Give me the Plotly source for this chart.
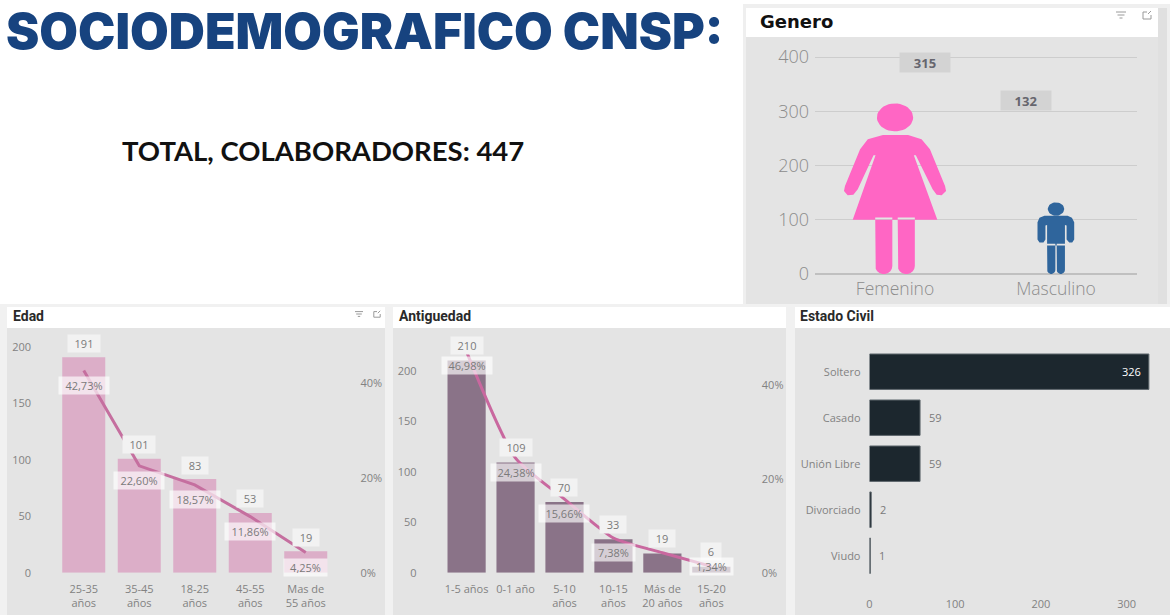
import numpy as np
import plotly.graph_objects as go

W, H = 1170, 615

# ---- data ----
genero_cats = ["Femenino", "Masculino"]
genero_vals = [315, 132]

edad_cats = ["25-35<br>años", "35-45<br>años", "18-25<br>años", "45-55<br>años", "Mas de<br>55 años"]
edad_vals = [191, 101, 83, 53, 19]
edad_pct = [42.73, 22.60, 18.57, 11.86, 4.25]
edad_pct_text = ["42,73%", "22,60%", "18,57%", "11,86%", "4,25%"]

antig_cats = ["1-5 años", "0-1 año", "5-10<br>años", "10-15<br>años", "Más de<br>20 años", "15-20<br>años"]
antig_vals = [210, 109, 70, 33, 19, 6]
antig_pct = [46.98, 24.38, 15.66, 7.38, 4.25, 1.34]
antig_pct_text = ["46,98%", "24,38%", "15,66%", "7,38%", "", "1,34%"]

civil_cats = ["Soltero", "Casado", "Unión Libre", "Divorciado", "Viudo"]
civil_vals = [326, 59, 59, 2, 1]

pct_ticks = [0, 20, 40]
pct_tick_text = ["0%", "20%", "40%"]

title_text = "SOCIODEMOGRAFICO CNSP:"
total_text = "TOTAL, COLABORADORES: 447"

# ---- style ----
PANEL = "#e4e4e4"
TXT = "#828282"
FONT = "Open Sans"


def dx(a, b):
    return [a / W, b / W]


def dy(top, bottom):
    return [1 - bottom / H, 1 - top / H]


def px(x):
    return x / W


def py(y):
    return 1 - y / H


shapes = []
annotations = []


def rect(x0, y0, x1, y1, color):
    shapes.append(dict(type="rect", xref="paper", yref="paper", layer="below",
                       x0=px(x0), x1=px(x1), y0=py(y1), y1=py(y0),
                       fillcolor=color, line=dict(width=0)))


def seg(x0, y0, x1, y1, color="#9a9a9a", w=1):
    shapes.append(dict(type="line", xref="paper", yref="paper", layer="above",
                       x0=px(x0), x1=px(x1), y0=py(y0), y1=py(y1),
                       line=dict(color=color, width=w)))


def head(text, x, y, size, family, color, weight=700):
    annotations.append(dict(text=text, xref="paper", yref="paper", x=px(x), y=py(y),
                            xanchor="left", yanchor="middle", showarrow=False, borderpad=0,
                            font=dict(size=size, family=family, color=color, weight=weight)))


def icons(xf, xe, y, s):
    for i, half in enumerate([5, 3.5, 1.5]):
        seg(xf - half * s, y - 3 * s + i * 3 * s, xf + half * s, y - 3 * s + i * 3 * s)
    seg(xe - 4 * s, y - 3 * s, xe - 4 * s, y + 4 * s)
    seg(xe - 4 * s, y + 4 * s, xe + 4 * s, y + 4 * s)
    seg(xe + 4 * s, y + 4 * s, xe + 4 * s, y)
    seg(xe - 4 * s, y - 3 * s, xe, y - 3 * s)
    seg(xe + 1 * s, y - 1 * s, xe + 4 * s, y - 4 * s)


# panels
rect(743, 4, 1170, 306, "#efefef")
rect(746, 8, 1158, 37, "#ffffff")
rect(746, 37, 1158, 305, PANEL)
rect(1158, 8, 1167, 305, "#e0e0e0")
rect(0, 304, 1170, 615, "#f1f1f1")
for x0, x1 in [(7, 385), (393, 786), (795, 1170)]:
    rect(x0, 307, x1, 328, "#ffffff")
    rect(x0, 328, x1, 615, PANEL)

head(title_text, 5, 31, 50, "Inter", "#17437f", weight=900)
head(total_text, 121, 151, 27.5, "Lato", "#111111")
head("Genero", 759, 22, 18, "DejaVu Sans", "#111111")
head("Edad", 12, 316, 14, "Roboto", "#2a2a2a")
head("Antiguedad", 398, 316, 14, "Roboto", "#2a2a2a")
head("Estado Civil", 799, 316, 14, "Roboto", "#2a2a2a")
icons(1121, 1147, 15, 1.0)
icons(359, 377, 314, 0.8)


def lab(text, x, y, xr, yr, yshift=0, xshift=0, bg="rgba(255,255,255,0.65)", color="#7a7a7a", size=11,
        xanchor="center", pad=0, width=None, height=None):
    annotations.append(dict(text=text, x=x, y=y, xref=xr, yref=yr, showarrow=False, xshift=xshift, yshift=yshift,
                            xanchor=xanchor, yanchor="middle", bgcolor=bg, borderpad=pad, width=width, height=height,
                            font=dict(size=size, family=FONT, color=color)))


def val_w(text):
    return {1: 20, 2: 26, 3: 32}[len(text)]


def pct_w(text):
    return 43 if len(text) == 5 else 50


def icon_path(parts, cx, half_w, h):
    xs, ys = [], []
    for part in parts:
        xs += [cx + half_w * u for u, _ in part] + [None]
        ys += [h * v for _, v in part] + [None]
    return xs, ys


def ellipse(cu, cv, ru, rv):
    t = np.linspace(0, 2 * np.pi, 40)
    return list(zip(cu + ru * np.cos(t), cv + rv * np.sin(t)))


def z(x, y, cx, half, base, height):
    return ((x - cx) / half, (base - y) / height)


def leg(x0, x1, ytop, ybot, r):
    t = np.linspace(np.pi, 2 * np.pi, 10)
    mid = (x0 + x1) / 2
    rx = (x1 - x0) / 2
    return [(x0, ytop)] + [(mid + rx * np.cos(a), ybot - r - r * np.sin(a)) for a in t] + [(x1, ytop)]


def female_parts():
    c = (166, 152, 535, 514)
    body = [(130, 117), (205, 117), (245, 130), (270, 160), (315, 270), (318, 285), (305, 298), (290, 297), (278, 280),
            (228, 178), (222, 178), (292, 372), (40, 372), (108, 178), (102, 178), (55, 280), (42, 297), (25, 298),
            (14, 285), (17, 270), (62, 160), (85, 130)]
    parts = [[z(x, y, *c) for x, y in body]]
    parts.append(ellipse(0, (535 - 64) / 514, 54 / 152, 42 / 514))
    parts.append([z(x, y, *c) for x, y in leg(107, 158, 365, 535, 24)])
    parts.append([z(x, y, *c) for x, y in leg(174, 225, 365, 535, 24)])
    return parts


def male_parts():
    c = (110, 56, 236, 216)
    body = [(75, 60), (145, 60), (158, 66), (165, 80), (165, 132), (159, 141), (150, 141), (142, 132), (142, 90),
            (137, 88), (137, 150), (83, 150), (83, 88), (78, 90), (78, 132), (72, 141), (60, 141), (54, 132),
            (54, 80), (60, 66)]
    parts = [[z(x, y, *c) for x, y in body]]
    parts.append(ellipse(0, (236 - 40) / 216, 25 / 56, 20 / 216))
    parts.append([z(x, y, *c) for x, y in leg(83, 108, 145, 236, 13)])
    parts.append([z(x, y, *c) for x, y in leg(112, 137, 145, 236, 13)])
    return parts


fig = go.Figure()

# Genero pictograms: height of each figure follows its value
for i, (parts, col, hw) in enumerate([(female_parts(), "#ff66c4", 0.317), (male_parts(), "#2f659c", 0.115)]):
    xs, ys = icon_path(parts, i, hw, genero_vals[i])
    fig.add_trace(go.Scatter(x=xs, y=ys, mode="lines", fill="toself", fillcolor=col,
                             line=dict(width=0, color=col), hoverinfo="skip", showlegend=False,
                             xaxis="x", yaxis="y"))
for i, (xs_, ys_) in enumerate([(30, 41), (-30, 102)]):
    lab(f"<b>{genero_vals[i]}</b>", i, genero_vals[i], "x", "y", xshift=xs_, yshift=ys_, bg="#d3d3d3",
        color="#66666e", size=13, width=50, height=19)

# Edad
fig.add_trace(go.Bar(x=edad_cats, y=edad_vals, marker=dict(color="#dcaec8", line=dict(width=0)), width=0.775,
                     xaxis="x2", yaxis="y2", showlegend=False))
fig.add_trace(go.Scatter(x=edad_cats, y=edad_pct, mode="lines", line=dict(color="#c56f9f", width=3),
                         xaxis="x2", yaxis="y3", showlegend=False))
for c, v, p, t in zip(edad_cats, edad_vals, edad_pct, edad_pct_text):
    lab(str(v), c, v, "x2", "y2", yshift=14, bg="#f2f2f2", width=val_w(str(v)), height=17)
    lab(t, c, p, "x2", "y3", yshift=-15, width=pct_w(t), height=17)

# Antiguedad
fig.add_trace(go.Bar(x=antig_cats, y=antig_vals, marker=dict(color="#8a7388", line=dict(width=0)), width=0.78,
                     xaxis="x3", yaxis="y4", showlegend=False))
fig.add_trace(go.Scatter(x=antig_cats, y=antig_pct, mode="lines", line=dict(color="#c9689f", width=3, shape="spline",
                                                                           smoothing=0.6),
                         xaxis="x3", yaxis="y5", showlegend=False))
for c, v, p, t in zip(antig_cats, antig_vals, antig_pct, antig_pct_text):
    lab(str(v), c, v, "x3", "y4", yshift=15, bg="#f2f2f2", width=val_w(str(v)), height=17)
    if t:
        lab(t, c, p, "x3", "y5", yshift=-14 if p > 2 else 0, width=pct_w(t), height=17)

# Estado civil
fig.add_trace(go.Bar(y=civil_cats, x=civil_vals, orientation="h", width=0.77,
                     marker=dict(color="#1c272e", line=dict(width=1, color="#5f686e")),
                     xaxis="x4", yaxis="y6", showlegend=False))
for c, v in zip(civil_cats, civil_vals):
    if v > 200:
        lab(str(v), v, c, "x4", "y6", xshift=-7, bg="rgba(0,0,0,0)", color="#ffffff", xanchor="right")
    else:
        lab(str(v), v, c, "x4", "y6", xshift=8, bg="rgba(0,0,0,0)", xanchor="left")

tf = dict(family=FONT, size=11, color=TXT)
tf_big = dict(family=FONT, size=18, color="#8c8c8c", weight=300)

layout = dict(
    width=W, height=H, autosize=False, margin=dict(l=0, r=0, t=0, b=0, pad=0, autoexpand=False),
    paper_bgcolor="#ffffff", plot_bgcolor="rgba(0,0,0,0)", showlegend=False, bargap=0.22,
    shapes=shapes, annotations=annotations,
    # Genero
    xaxis=dict(domain=dx(815, 1137), range=[-0.497, 1.503], tickvals=[0, 1], ticktext=genero_cats, showgrid=False,
               zeroline=False, showline=False, tickfont=dict(family=FONT, size=17.5, color="#8c8c8c", weight=300),
               ticks="", ticklabelstandoff=2, fixedrange=True, automargin=False),
    yaxis=dict(domain=dy(50, 274), range=[0, 224 / 0.5425], tickvals=[0, 100, 200, 300, 400], showgrid=True,
               gridcolor="#cdcdcd", gridwidth=1, zeroline=True, zerolinecolor="#c0c0c0", zerolinewidth=2,
               tickfont=tf_big, ticks="", ticklabelstandoff=5, fixedrange=True, anchor="x", automargin=False),
    # Edad
    xaxis2=dict(domain=dx(56, 333.5), type="category", categoryorder="array", categoryarray=edad_cats,
                showgrid=False, zeroline=False, tickfont=tf, ticks="", ticklabelstandoff=8, anchor="y2", tickangle=0),
    yaxis2=dict(domain=dy(337, 572.7), range=[0, 235.7 / 1.128], tickvals=[0, 50, 100, 150, 200], showgrid=False,
                zeroline=False, tickfont=tf, ticks="", ticklabelstandoff=24, anchor="x2"),
    yaxis3=dict(domain=dy(337, 572.7), range=[0, 235.7 / 4.73], tickvals=pct_ticks, ticktext=pct_tick_text,
                side="right", overlaying="y2", anchor="x2", showgrid=False, zeroline=False, tickfont=tf, ticks="",
                ticklabelstandoff=26),
    # Antiguedad
    xaxis3=dict(domain=dx(440.6, 735.8), type="category", categoryorder="array", categoryarray=antig_cats,
                showgrid=False, zeroline=False, tickfont=tf, ticks="", ticklabelstandoff=8, anchor="y4", tickangle=0),
    yaxis4=dict(domain=dy(337, 572.7), range=[0, 235.7 / 1.01], tickvals=[0, 50, 100, 150, 200], showgrid=False,
                zeroline=False, tickfont=tf, ticks="", ticklabelstandoff=23, anchor="x3"),
    yaxis5=dict(domain=dy(337, 572.7), range=[0, 235.7 / 4.70], tickvals=pct_ticks, ticktext=pct_tick_text,
                side="right", overlaying="y4", anchor="x3", showgrid=False, zeroline=False, tickfont=tf, ticks="",
                ticklabelstandoff=25),
    # Estado civil
    xaxis4=dict(domain=dx(869.5, 1155), range=[0, 285.5 / 0.857], tickvals=[0, 100, 200, 300], showgrid=False,
                zeroline=False, tickfont=tf, ticks="", ticklabelstandoff=17, anchor="y6"),
    yaxis6=dict(domain=dy(348.7, 578.7), type="category", categoryorder="array",
                categoryarray=civil_cats[::-1], showgrid=False, zeroline=False, tickfont=tf, ticks="",
                ticklabelstandoff=8, anchor="x4"),
)
fig.update_layout(**layout)

fig.write_html("out.html", config=dict(displayModeBar=False),
               post_script="document.body.style.margin='0';document.body.style.overflow='hidden';")
